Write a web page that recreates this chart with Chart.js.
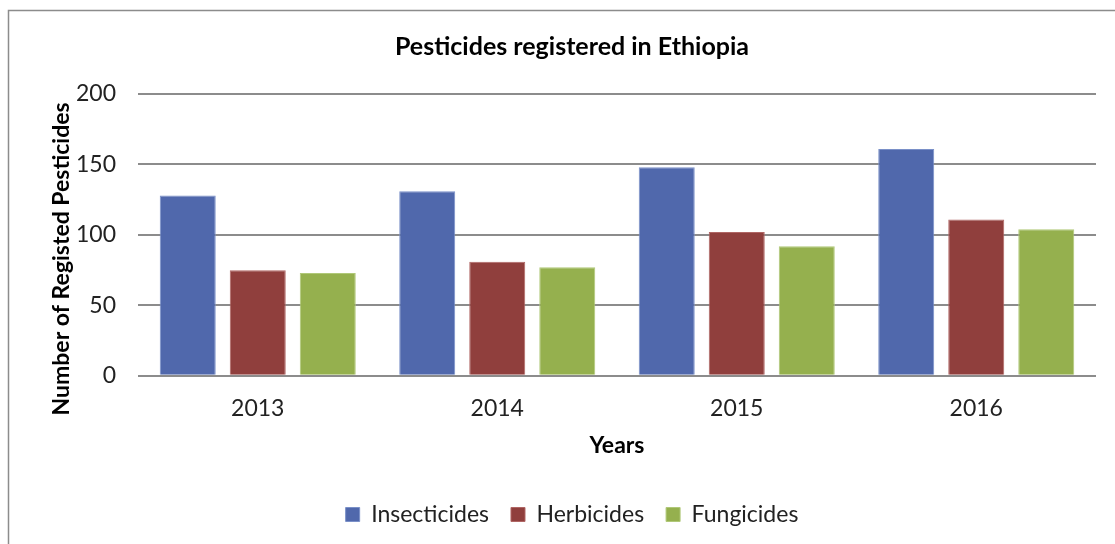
<!DOCTYPE html>
<html>
<head>
<meta charset="utf-8">
<script src="https://cdn.jsdelivr.net/npm/chart.js@4.4.1/dist/chart.umd.min.js"></script>
<style>
  html, body { margin: 0; padding: 0; background: #ffffff; }
  #wrap { width: 1115px; height: 544px; position: relative; }
</style>
</head>
<body>
<div id="wrap"><canvas id="c" width="1115" height="544"></canvas></div>
<script>
const years = ['2013', '2014', '2015', '2016'];
const insecticides = [128, 131, 148, 161];
const herbicides = [75, 81, 102, 111];
const fungicides = [73, 77, 92, 104];
const yTicks = [0, 50, 100, 150, 200];
const yTitle = 'Number of Registed Pesticides';

const FONT = 'Lato, "Open Sans", sans-serif';

const framePlugin = {
  id: 'frame',
  beforeDraw(chart) {
    const ctx = chart.ctx;
    ctx.save();
    ctx.fillStyle = '#ffffff';
    ctx.fillRect(0, 0, chart.width, chart.height);
    ctx.strokeStyle = '#8c8c8c';
    ctx.lineWidth = 1.5;
    ctx.beginPath();
    ctx.moveTo(8.5, chart.height + 5);
    ctx.lineTo(8.5, 10.5);
    ctx.lineTo(chart.width + 5, 10.5);
    ctx.stroke();
    ctx.restore();
  },
  afterDraw(chart) {
    const ctx = chart.ctx;
    const a = chart.chartArea;
    ctx.save();
    ctx.translate(62, (a.top + a.bottom) / 2 + 24);
    ctx.rotate(-Math.PI / 2);
    ctx.fillStyle = '#000000';
    ctx.font = 'bold 23px ' + FONT;
    ctx.textAlign = 'center';
    ctx.textBaseline = 'middle';
    ctx.fillText(yTitle, 0, 0);
    ctx.restore();
  }
};

new Chart(document.getElementById('c'), {
  type: 'bar',
  data: {
    labels: years,
    datasets: [
      { label: 'Insecticides', data: insecticides, backgroundColor: '#5068ac', borderColor: '#7a90c8', borderWidth: 1 },
      { label: 'Herbicides', data: herbicides, backgroundColor: '#903f3d', borderColor: '#b06664', borderWidth: 1 },
      { label: 'Fungicides', data: fungicides, backgroundColor: '#95b04e', borderColor: '#b0c878', borderWidth: 1 }
    ]
  },
  options: {
    responsive: false,
    animation: false,
    layout: { padding: { left: 48, right: 19, top: 0, bottom: 8 } },
    datasets: { bar: { categoryPercentage: 0.877, barPercentage: 0.8 } },
    plugins: {
      title: {
        display: true,
        text: 'Pesticides registered in Ethiopia',
        color: '#000000',
        font: { family: FONT, size: 25, weight: 'bold' },
        padding: { top: 32, bottom: 32 }
      },
      legend: {
        position: 'bottom',
        labels: {
          color: '#222222',
          font: { family: FONT, size: 23 },
          boxWidth: 14,
          boxHeight: 14,
          padding: 22
        }
      },
      tooltip: { enabled: false }
    },
    scales: {
      x: {
        grid: { display: false, drawTicks: false },
        border: { display: false },
        ticks: { color: '#222222', font: { family: FONT, size: 23 }, padding: 19 },
        title: {
          display: true,
          text: 'Years',
          color: '#000000',
          font: { family: FONT, size: 23, weight: 'bold' },
          padding: { top: -10, bottom: 22 }
        }
      },
      y: {
        min: 0,
        max: 200,
        afterBuildTicks(scale) { scale.ticks = yTicks.map(v => ({ value: v })); },
        afterFit(scale) { scale.width = 90; },
        grid: { color: '#8c8c8c', lineWidth: 2, drawTicks: false },
        border: { display: false },
        ticks: { color: '#222222', font: { family: FONT, size: 23 }, padding: 22 },
        title: { display: false }
      }
    }
  },
  plugins: [framePlugin]
});
</script>
</body>
</html>
